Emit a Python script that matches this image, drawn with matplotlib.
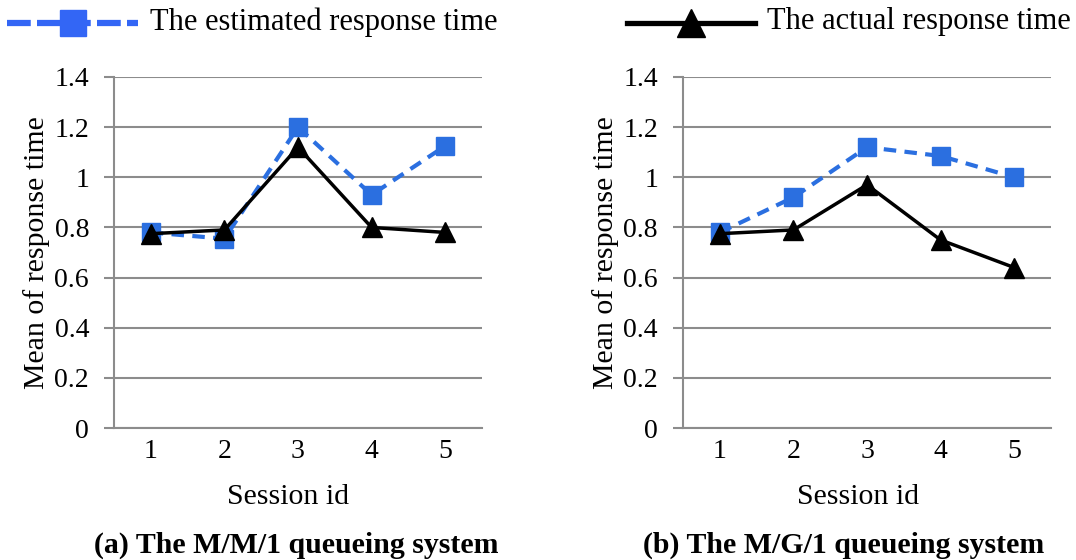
import matplotlib
matplotlib.use("Agg")
import matplotlib.pyplot as plt
from matplotlib.lines import Line2D

# ================== DATA ==================
SESSIONS = [1, 2, 3, 4, 5]
MM1_ESTIMATED = [0.78, 0.755, 1.20, 0.93, 1.125]
MM1_ACTUAL = [0.775, 0.79, 1.12, 0.80, 0.78]
MG1_ESTIMATED = [0.78, 0.92, 1.12, 1.085, 1.00]
MG1_ACTUAL = [0.775, 0.79, 0.97, 0.75, 0.64]
Y_TICKS = [0, 0.2, 0.4, 0.6, 0.8, 1, 1.2, 1.4]
Y_LABELS = ["0", "0.2", "0.4", "0.6", "0.8", "1", "1.2", "1.4"]
LEGEND_LABELS = ["The estimated response time", "The actual response time"]

BLUE = "#2b6fe0"
LEGEND_BLUE = "#3366f5"
GRID = "#8c8c8c"

plt.rcParams["font.family"] = ["Liberation Serif", "DejaVu Serif"]

fig = plt.figure(figsize=(10.76, 5.6), dpi=100)

W, H = 1076, 560
# (left px, right px, estimated, actual, caption, xlabel x, caption x)
panels = [
    (114, 482, MM1_ESTIMATED, MM1_ACTUAL, "(a) The M/M/1 queueing system", 0.473, 0.495),
    (683, 1051, MG1_ESTIMATED, MG1_ACTUAL, "(b) The M/G/1 queueing system", 0.476, 0.4375),
]
top, bottom = 77, 428

for x0, x1, est, act, title, xl_x, t_x in panels:
    ax = fig.add_axes([x0 / W, 1 - bottom / H, (x1 - x0) / W, (bottom - top) / H])
    ax.plot(SESSIONS, est, color=BLUE, lw=3, ls=(0, (3, 2)), marker="s",
            ms=13, mfc=BLUE, mec=BLUE, zorder=3)
    ax.plot(SESSIONS, act, color="black", lw=2.5, marker="^",
            ms=14, mfc="black", mec="black", zorder=4)
    ax.set_xlim(0.5, 5.5)
    ax.set_ylim(0, 1.4)
    ax.set_xticks(SESSIONS)
    ax.set_yticks(Y_TICKS)
    ax.set_yticklabels(Y_LABELS)
    ax.yaxis.grid(True, color=GRID, lw=1.5)
    ax.set_axisbelow(True)
    for s in ["top", "right"]:
        ax.spines[s].set_visible(False)
    for s in ["left", "bottom"]:
        ax.spines[s].set_color(GRID)
        ax.spines[s].set_linewidth(1.5)
    ax.tick_params(axis="y", length=7, color=GRID, width=1.5, labelsize=20, pad=11)
    ax.tick_params(axis="x", length=0, labelsize=20, pad=8)
    ax.set_xlabel("Session id", fontsize=21.5, labelpad=14)
    ax.xaxis.label.set_x(xl_x)
    ax.set_ylabel("Mean of response time", fontsize=21.5, labelpad=3)
    ax.set_title(title, fontsize=21.5, fontweight="bold", x=t_x, y=-0.38)

# legend row across the top, drawn in figure pixels
def legend_entry(x_start, x_end, x_mark, x_text, label, color, lw, ls, marker, ms):
    y = 1 - 23 / H
    fig.add_artist(Line2D([x_start / W, x_end / W], [y, y], color=color,
                          lw=lw, ls=ls, transform=fig.transFigure))
    fig.add_artist(Line2D([x_mark / W], [y], ls="none",
                          transform=fig.transFigure, marker=marker,
                          ms=ms, mfc=color, mec=color))
    fig.text(x_text / W, 1 - 22 / H, label, fontsize=22, va="center", ha="left")

legend_entry(7, 138, 73, 150, LEGEND_LABELS[0], LEGEND_BLUE, 4.5,
             (0, (3.8, 1.0)), "s", 19)
legend_entry(627, 755, 691, 767, LEGEND_LABELS[1], "black", 3.8, "-", "^", 20)

fig.savefig("out.png", dpi=100)
